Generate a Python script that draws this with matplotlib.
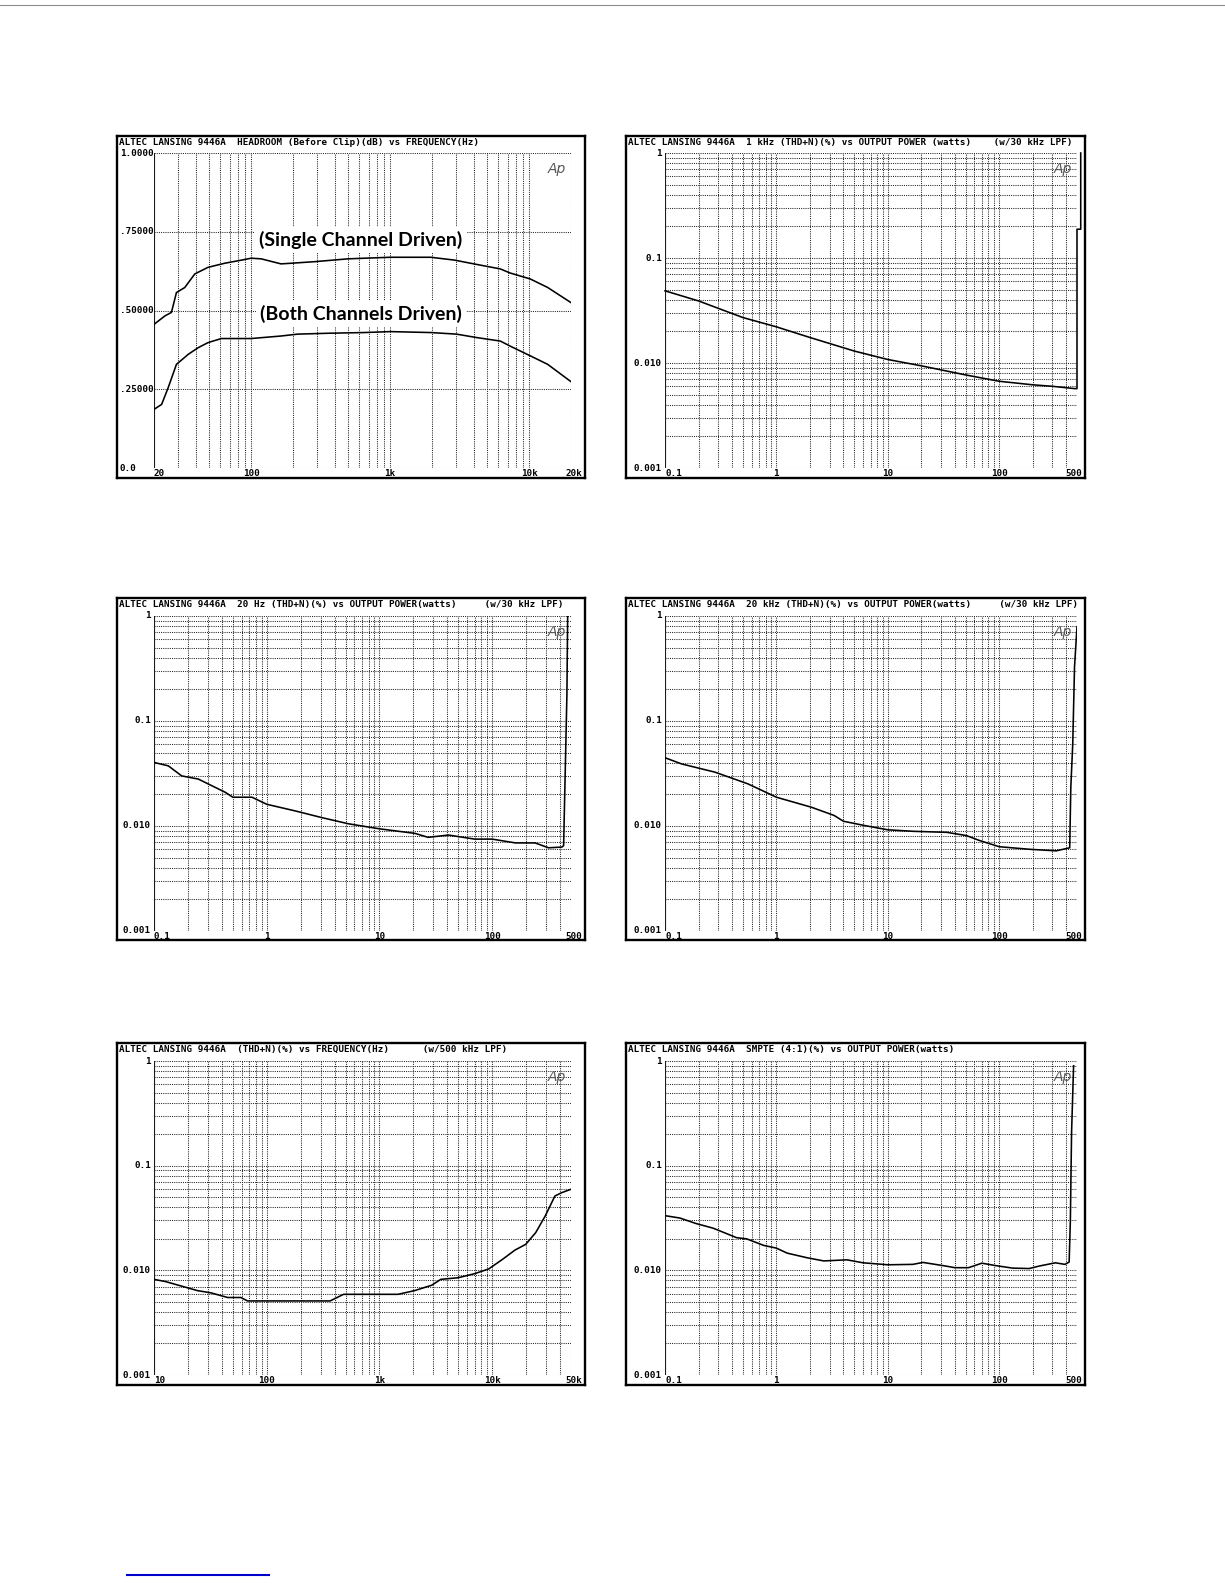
import numpy as np
import matplotlib
matplotlib.use("Agg")
from matplotlib import pyplot as plt
from matplotlib.transforms import blended_transform_factory

W, H = 1225, 1585

## --- data --- ##

# headroom vs frequency
hr_freq_single = [20, 24, 26.7, 29, 33.3, 39.3, 48.9, 64.5, 85.4, 100, 118, 164,
                  194, 286, 498, 1000, 1960, 2900, 4000, 6200, 7300, 10200, 13600, 20000]
hr_single = [0.456, 0.483, 0.494, 0.557, 0.573, 0.616, 0.637, 0.650, 0.660, 0.666, 0.664, 0.648,
             0.650, 0.655, 0.664, 0.669, 0.669, 0.660, 0.648, 0.632, 0.619, 0.600, 0.573, 0.525]
hr_freq_both = [20, 22.7, 25.3, 29, 35.3, 41.6, 48.9, 61, 100, 164, 216, 375, 653, 1000,
                1960, 3000, 4200, 6200, 7300, 10200, 13600, 20000]
hr_both = [0.186, 0.202, 0.255, 0.329, 0.361, 0.382, 0.398, 0.411, 0.411, 0.419, 0.425, 0.428,
           0.430, 0.433, 0.430, 0.425, 0.414, 0.403, 0.387, 0.356, 0.329, 0.274]

# 1 kHz THD+N vs power
p1k_watts = [0.1, 0.2, 0.5, 1, 2, 5, 10, 20, 50, 100, 200, 300, 480, 500, 500, 540, 540]
p1k_thd = [0.0487, 0.039, 0.0271, 0.0221, 0.0175, 0.0130, 0.0108, 0.0094, 0.0077, 0.0067,
           0.0062, 0.0060, 0.0057, 0.0057, 0.188, 0.188, 1.0]

# 20 Hz THD+N vs power
p20_watts = [0.1, 0.134, 0.176, 0.247, 0.43, 0.5, 0.74, 1.0, 1.8, 3.1, 5.3, 10, 20.7, 27,
             41, 70, 100, 161, 240, 316, 415, 430, 460, 467]
p20_thd = [0.0403, 0.0374, 0.030, 0.028, 0.0209, 0.0188, 0.0188, 0.0161, 0.0139, 0.0120,
           0.0105, 0.0094, 0.0085, 0.0078, 0.0082, 0.0075, 0.0075, 0.0069, 0.0069, 0.0062,
           0.0063, 0.0065, 0.18, 1.0]

# 20 kHz THD+N vs power
p20k_watts = [0.1, 0.141, 0.28, 0.555, 1.0, 2.06, 3.3, 4.0, 6.2, 10, 17, 34, 51, 66, 100,
              188, 325, 430, 440, 458, 475, 500]
p20k_thd = [0.0447, 0.039, 0.0326, 0.0252, 0.0188, 0.0151, 0.0126, 0.0111, 0.0101, 0.0092,
            0.0089, 0.0087, 0.0081, 0.0073, 0.00635, 0.0060, 0.0058, 0.0062, 0.0234, 0.0608,
            0.328, 0.79]

# THD+N vs frequency
thd_freq = [10, 12.7, 17.3, 24.3, 31.9, 45, 59, 67.5, 100, 365, 480, 1460, 2050, 2900, 3500,
            5000, 7000, 9300, 12300, 15900, 19800, 24300, 29500, 36000, 41500, 50000]
thd_pct = [0.0082, 0.0078, 0.0071, 0.0064, 0.0061, 0.0055, 0.0055, 0.0051, 0.0051, 0.0051,
           0.0059, 0.0059, 0.0064, 0.0072, 0.0082, 0.0085, 0.0093, 0.0103, 0.0127, 0.0156,
           0.0177, 0.0229, 0.033, 0.0513, 0.0553, 0.0595]

# SMPTE IM vs power
smpte_watts = [0.1, 0.136, 0.19, 0.27, 0.44, 0.54, 0.77, 1.0, 1.25, 1.88, 2.66, 4.3, 6.0, 10,
               16.8, 20.7, 33, 40, 53, 70, 93, 132, 186, 230, 320, 390, 425, 436, 447, 466]
smpte_imd = [0.0333, 0.0316, 0.028, 0.0253, 0.0205, 0.0200, 0.0173, 0.0163, 0.0146, 0.0132,
             0.0123, 0.0126, 0.0118, 0.0113, 0.0114, 0.0119, 0.0110, 0.0106, 0.0106, 0.0117,
             0.0111, 0.0105, 0.0104, 0.0110, 0.0118, 0.0114, 0.0120, 0.03, 0.21, 0.9]

# tick labels
freq_ticks_hr = [20, 100, 1000, 10000, 20000]
freq_labels_hr = ["20", "100", "1k", "10k", "20k"]
hr_yticks = [0.0, 0.25, 0.5, 0.75, 1.0]
hr_ylabels = ["0.0", ".25000", ".50000", ".75000", "1.0000"]
watt_ticks = [0.1, 1, 10, 100, 500]
watt_labels = ["0.1", "1", "10", "100", "500"]
freq_ticks_thd = [10, 100, 1000, 10000, 50000]
freq_labels_thd = ["10", "100", "1k", "10k", "50k"]
pct_ticks = [0.001, 0.01, 0.1, 1]
pct_labels = ["0.001", "0.010", "0.1", "1"]

MONO = "DejaVu Sans Mono"
TSIZE = 6.7
GRID = dict(color="0.15", lw=0.75, linestyle=(0, (1, 1.1)), zorder=1)


def px_rect(x0, y0, x1, y1):
    """Pixel box (top-left origin) -> figure fraction rect."""
    return [x0 / W, 1 - y1 / H, (x1 - x0) / W, (y1 - y0) / H]


def log_grid(lo, hi):
    vals = []
    for d in range(int(np.floor(np.log10(lo))), int(np.ceil(np.log10(hi))) + 1):
        for m in range(1, 10):
            v = m * 10.0 ** d
            if lo * 0.999 <= v <= hi * 1.001:
                vals.append(v)
    return vals


def make_panel(fig, frame, plot, title, xlim, ylim, xticks, xlabels,
               yticks, ylabels, ylog=True, ylabel_left=False):
    fx0, fy0, fx1, fy1 = frame
    px0, py0, px1, py1 = plot

    fax = fig.add_axes(px_rect(*frame))
    fax.set_xticks([])
    fax.set_yticks([])
    for s in fax.spines.values():
        s.set_linewidth(1.7)
    fig.text((fx0 + 2) / W, 1 - (fy0 + 2) / H, title, ha="left", va="top",
             family=MONO, weight="bold", fontsize=TSIZE)

    ax = fig.add_axes(px_rect(*plot))
    ax.patch.set_alpha(0)
    ax.set_xscale("log")
    if ylog:
        ax.set_yscale("log")
    ax.set_xlim(*xlim)
    ax.set_ylim(*ylim)
    for s in ax.spines.values():
        s.set_visible(False)
    ax.tick_params(which="both", length=0, labelbottom=False, labelleft=False)

    for v in log_grid(*xlim):
        ax.axvline(v, **GRID)
    hlines = log_grid(*ylim) if ylog else yticks
    for v in hlines:
        ax.axhline(v, **GRID)
    ax.axvline(xlim[0], color="0.1", lw=0.8, zorder=1)

    # y tick labels
    ytr = blended_transform_factory(fig.transFigure, ax.transData)
    for v, lab in zip(yticks, ylabels):
        if ylabel_left:
            ax.text((fx0 + 3) / W, v, lab, transform=ytr, ha="left", va="center",
                    family=MONO, weight="bold", fontsize=TSIZE)
        else:
            ax.text((px0 - 3) / W, v, lab, transform=ytr, ha="right", va="center",
                    family=MONO, weight="bold", fontsize=TSIZE)

    # x tick labels
    xtr = blended_transform_factory(ax.transData, fig.transFigure)
    ylab = 1 - (py1 + 1) / H
    for i, (v, lab) in enumerate(zip(xticks, xlabels)):
        if i == 0:
            ax.text(v, ylab, lab, transform=xtr, ha="left", va="top",
                    family=MONO, weight="bold", fontsize=TSIZE)
        elif i == len(xticks) - 1:
            ax.text((fx1 - 3) / W, ylab, lab, transform=fig.transFigure, ha="right",
                    va="top", family=MONO, weight="bold", fontsize=TSIZE)
        else:
            ax.text(v, ylab, lab, transform=xtr, ha="center", va="top",
                    family=MONO, weight="bold", fontsize=TSIZE)

    ax.text(0.988, 0.972, "Ap", transform=ax.transAxes, ha="right", va="top",
            fontsize=10, color="0.35", style="italic", family="DejaVu Sans",
            weight="light", zorder=3)
    return ax


def draw_all():
    fig = plt.figure(figsize=(W / 100, H / 100), dpi=100)

    left_frame = (117, 585)
    right_frame = (626, 1085)
    left_plot = (154, 571)
    right_plot = (665, 1077)
    rows_frame = [(136, 478), (598, 940), (1043, 1385)]
    rows_plot = [(153, 468), (616, 931), (1061, 1375)]

    def boxes(col, row):
        fx = left_frame if col == 0 else right_frame
        px = left_plot if col == 0 else right_plot
        return ((fx[0], rows_frame[row][0], fx[1], rows_frame[row][1]),
                (px[0], rows_plot[row][0], px[1], rows_plot[row][1]))

    line = dict(color="black", lw=1.15, zorder=4)

    # headroom
    fr, pl = boxes(0, 0)
    ax = make_panel(fig, fr, pl,
                    "ALTEC LANSING 9446A  HEADROOM (Before Clip)(dB) vs FREQUENCY(Hz)",
                    (20, 20000), (0, 1), freq_ticks_hr, freq_labels_hr,
                    hr_yticks, hr_ylabels, ylog=False, ylabel_left=True)
    ax.plot(hr_freq_single, hr_single, **line)
    ax.plot(hr_freq_both, hr_both, **line)
    box = dict(facecolor="white", edgecolor="none", pad=3)
    fig.text(361 / W, 1 - 240 / H, "(Single Channel Driven)", ha="center", va="center",
             family="Lato", weight="bold", fontsize=14, bbox=box, zorder=5)
    fig.text(361 / W, 1 - 314 / H, "(Both Channels Driven)", ha="center", va="center",
             family="Lato", weight="bold", fontsize=14, bbox=box, zorder=5)

    # 1 kHz
    fr, pl = boxes(1, 0)
    ax = make_panel(fig, fr, pl,
                    "ALTEC LANSING 9446A  1 kHz (THD+N)(%) vs OUTPUT POWER (watts)    (w/30 kHz LPF)",
                    (0.1, 500), (0.001, 1), watt_ticks, watt_labels, pct_ticks, pct_labels)
    ax.plot(p1k_watts, p1k_thd, clip_on=False, **line)

    # 20 Hz
    fr, pl = boxes(0, 1)
    ax = make_panel(fig, fr, pl,
                    "ALTEC LANSING 9446A  20 Hz (THD+N)(%) vs OUTPUT POWER(watts)     (w/30 kHz LPF)",
                    (0.1, 500), (0.001, 1), watt_ticks, watt_labels, pct_ticks, pct_labels)
    ax.plot(p20_watts, p20_thd, **line)

    # 20 kHz
    fr, pl = boxes(1, 1)
    ax = make_panel(fig, fr, pl,
                    "ALTEC LANSING 9446A  20 kHz (THD+N)(%) vs OUTPUT POWER(watts)     (w/30 kHz LPF)",
                    (0.1, 500), (0.001, 1), watt_ticks, watt_labels, pct_ticks, pct_labels)
    ax.plot(p20k_watts, p20k_thd, **line)

    # THD+N vs frequency
    fr, pl = boxes(0, 2)
    ax = make_panel(fig, fr, pl,
                    "ALTEC LANSING 9446A  (THD+N)(%) vs FREQUENCY(Hz)      (w/500 kHz LPF)",
                    (10, 50000), (0.001, 1), freq_ticks_thd, freq_labels_thd,
                    pct_ticks, pct_labels)
    ax.plot(thd_freq, thd_pct, **line)

    # SMPTE
    fr, pl = boxes(1, 2)
    ax = make_panel(fig, fr, pl,
                    "ALTEC LANSING 9446A  SMPTE (4:1)(%) vs OUTPUT POWER(watts)",
                    (0.1, 500), (0.001, 1), watt_ticks, watt_labels, pct_ticks, pct_labels)
    ax.plot(smpte_watts, smpte_imd, **line)

    # scan leftovers: rule at the top of the page, link underline at the bottom
    fig.add_artist(plt.Line2D([0, 1], [1 - 5 / H, 1 - 5 / H], color="0.55", lw=0.8,
                              transform=fig.transFigure))
    fig.add_artist(plt.Line2D([127 / W, 269 / W], [1 - 1575 / H, 1 - 1575 / H],
                              color="#0000cc", lw=1.5, transform=fig.transFigure))

    fig.savefig("out.png", dpi=100, facecolor="white")


if __name__ == "__main__":
    draw_all()
